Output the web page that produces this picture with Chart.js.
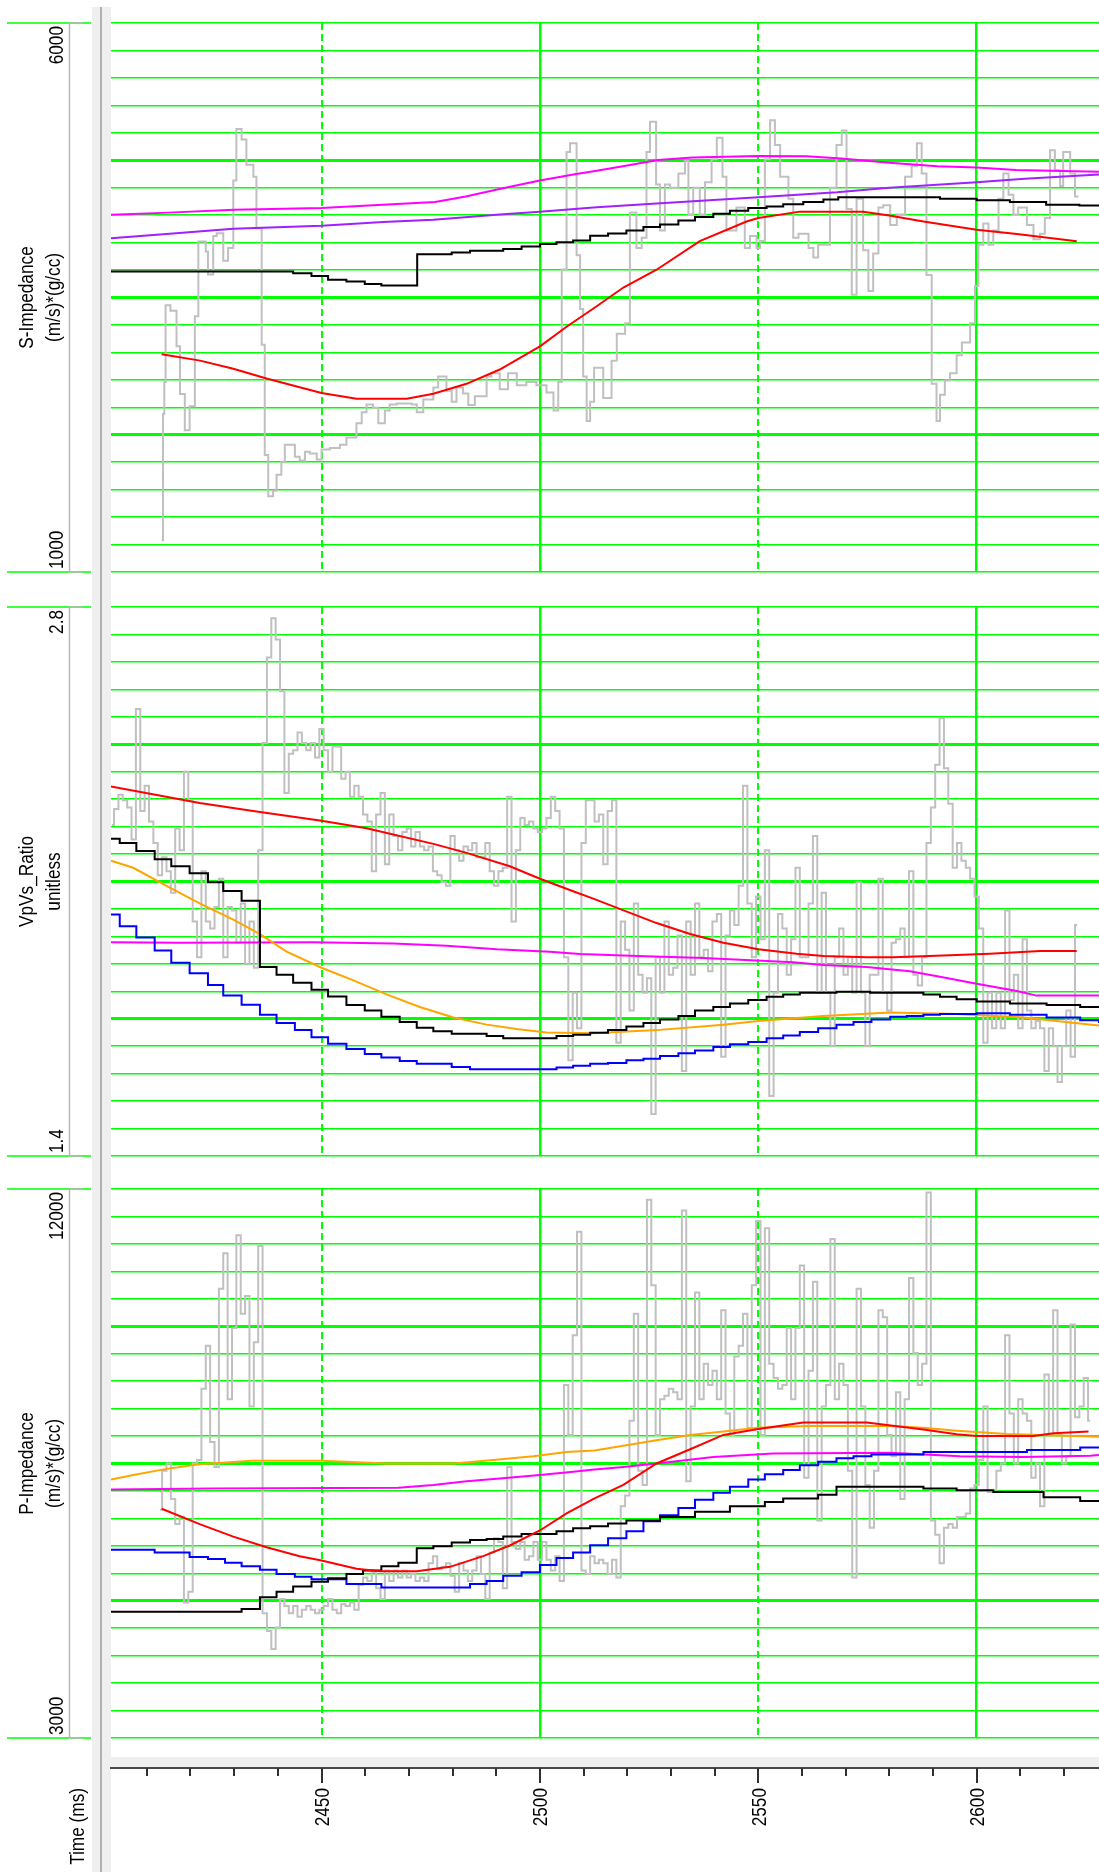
<!DOCTYPE html>
<html>
<head>
<meta charset="utf-8">
<title>Well log inversion display</title>
<script src="https://cdn.jsdelivr.net/npm/chart.js@4.4.1/dist/chart.umd.min.js"></script>
<style>
  html, body { margin: 0; padding: 0; background: #fff; }
  body { width: 1099px; height: 1872px; position: relative; overflow: hidden; }
  .sep { position: absolute; left: 92px; top: 7px; width: 19px; bottom: 0; background: #efefef; }
  .sep::after { content: ""; position: absolute; left: 8px; top: 0; bottom: 0; width: 2px; background: #b0b0b0; }
  .box { position: absolute; left: 0; width: 1099px; }
  canvas { display: block; }
</style>
</head>
<body>
<div class="sep"></div>
<div class="box" style="top:6px;height:583px"><canvas id="sImp" width="1099" height="583"></canvas></div>
<div class="box" style="top:590px;height:583px"><canvas id="vpvs" width="1099" height="583"></canvas></div>
<div class="box" style="top:1172px;height:583px"><canvas id="pImp" width="1099" height="583"></canvas></div>
<div class="box" style="top:1740px;height:132px"><canvas id="timeAxis" width="1099" height="132"></canvas></div>
<script>
const FONT = "'Liberation Sans', Arial, sans-serif";
const TEXT_SIZE = 21;      // px
const TEXT_NARROW = 0.82;  // horizontal squeeze for the narrow label face
Chart.defaults.font.family = FONT;
Chart.defaults.font.size = TEXT_SIZE;
Chart.defaults.color = '#000';

// ---- time axis ----
const timeRange = [2401.8, 2628];
const gridSolid = [2500, 2600];
const gridDashed = [2450, 2550];
const timeLabels = [2450, 2500, 2550, 2600];
const timeMinor = [2410, 2420, 2430, 2440, 2450, 2460, 2470, 2480, 2490, 2500, 2510, 2520, 2530,
                   2540, 2550, 2560, 2570, 2580, 2590, 2600, 2610, 2620];
const timeTitle = 'Time (ms)';

// ---- panel ranges and titles ----
const sImpRange = [1000, 6000];
const vpvsRange = [1.4, 2.8];
const pImpRange = [3000, 12000];
const sImpTitle = ['S-Impedance', '(m/s)*(g/cc)'];
const vpvsTitle = ['VpVs_Ratio', 'unitless'];
const pImpTitle = ['P-Impedance', '(m/s)*(g/cc)'];

// ---- S-Impedance ----
const sImpLog = [[2413.4,1290],[2413.7,2440],[2414.0,2730],[2414.3,3430],[2415.4,3380],[2416.8,3055],[2417.6,2620],[2418.7,2290],[2419.8,2510],[2421.0,3330],[2421.8,4010],[2423.5,3920],[2424.0,3710],[2425.2,4060],[2426.0,4085],[2427.5,3835],[2428.6,3950],[2429.8,4565],[2430.5,5035],[2431.7,4940],[2432.8,4710],[2434.4,4600],[2435.1,4130],[2436.3,3070],[2437.0,2065],[2437.8,1690],[2438.9,1740],[2439.7,1885],[2440.8,2000],[2441.6,2160],[2443.9,2050],[2445.0,2015],[2446.2,2095],[2447.3,2080],[2448.9,2025],[2450.0,2115],[2451.9,2130],[2454.2,2160],[2455.7,2225],[2458.0,2355],[2459.2,2455],[2460.3,2525],[2461.8,2495],[2463.0,2355],[2464.5,2470],[2465.6,2525],[2467.2,2535],[2470.6,2525],[2471.8,2455],[2473.3,2570],[2475.6,2680],[2476.7,2780],[2478.6,2650],[2479.8,2550],[2480.9,2680],[2482.4,2625],[2483.6,2520],[2485.1,2600],[2487.8,2780],[2488.9,2810],[2490.8,2665],[2492.7,2810],[2494.7,2700],[2496.9,2730],[2499.2,2700],[2501.5,2635],[2503.1,2470],[2504.2,2730],[2505.0,3755],[2506.1,4825],[2506.9,4905],[2508.4,3885],[2509.2,3395],[2509.9,2780],[2510.7,2375],[2511.5,2550],[2512.4,2860],[2514.5,2585],[2516.4,2925],[2517.6,3170],[2519.5,3265],[2520.6,4275],[2522.1,3950],[2523.3,4045],[2524.4,4825],[2525.2,5100],[2526.6,4530],[2527.5,4110],[2528.6,4530],[2529.8,4500],[2531.7,4630],[2533.2,4745],[2534.0,4255],[2535.1,4500],[2536.6,4255],[2537.8,4550],[2539.3,4760],[2540.5,4955],[2541.8,4600],[2542.7,4110],[2545.0,4320],[2546.9,3950],[2548.1,4060],[2549.6,3950],[2550.4,4015],[2551.5,4760],[2552.7,5115],[2553.8,4890],[2555.0,4600],[2556.9,4400],[2558.0,4045],[2559.2,4080],[2561.5,3950],[2562.6,3865],[2563.7,3980],[2566.4,4500],[2567.9,4890],[2569.1,5020],[2570.2,4305],[2571.4,3525],[2572.5,4400],[2574.0,3930],[2575.2,3560],[2576.3,3900],[2577.5,4320],[2578.6,4340],[2580.2,4160],[2581.7,4255],[2583.6,4600],[2585.1,4695],[2586.3,4905],[2587.4,4630],[2588.5,3705],[2589.7,2715],[2590.8,2375],[2591.6,2615],[2592.7,2745],[2593.9,2810],[2595.4,2975],[2596.6,3090],[2598.5,3265],[2599.6,3605],[2600.4,3980],[2601.5,4175],[2602.7,3980],[2603.8,4110],[2605.0,4400],[2606.1,4630],[2607.3,4435],[2608.4,4255],[2609.5,4320],[2611.5,4160],[2613.0,4030],[2614.5,4080],[2615.6,4225],[2616.8,4840],[2617.9,4660],[2619.1,4515],[2619.8,4825],[2621.4,4630],[2622.5,4420],[2623.3,4420]];
const sImpMagenta = [[2401.8,4253],[2415,4273],[2430,4299],[2450,4315],[2464,4345],[2476,4370],[2483,4419],[2491,4490],[2500,4565],[2508,4623],[2513,4655],[2519,4695],[2527,4753],[2535,4776],[2550,4789],[2561,4786],[2569,4766],[2580,4727],[2591,4695],[2600,4685],[2609,4662],[2628,4646]];
const sImpPurple = [[2401.8,4039],[2414.5,4078],[2429.8,4127],[2450,4153],[2464.1,4188],[2475.6,4208],[2490.8,4257],[2500,4282],[2513,4321],[2526.7,4357],[2550,4412],[2568,4458],[2580,4500],[2600,4549],[2611,4581],[2628,4620]];
const sImpBlack = [[2401.8,3737],[2443.5,3721],[2447.7,3695],[2451.5,3662],[2455.7,3646],[2459.9,3623],[2463.7,3610],[2471.9,3893],[2479.8,3909],[2484.0,3925],[2491.6,3942],[2495.8,3964],[2500.0,3987],[2503.8,4003],[2507.6,4020],[2511.5,4062],[2515.6,4084],[2519.8,4110],[2523.7,4143],[2527.5,4165],[2531.7,4201],[2535.5,4233],[2539.7,4263],[2543.5,4289],[2547.7,4315],[2551.9,4328],[2555.7,4350],[2560.3,4370],[2564.9,4393],[2568.3,4412],[2591.6,4399],[2600.0,4386],[2607.6,4370],[2615.9,4344],[2623.5,4338],[2628,4338]];
const sImpRed = [[2413.4,2984],[2422.2,2925],[2429.8,2851],[2437.4,2763],[2445,2682],[2450,2630],[2458,2578],[2469.5,2578],[2475.6,2623],[2483.2,2714],[2490.8,2844],[2500,3055],[2506.1,3234],[2513,3420],[2519.1,3591],[2526.7,3753],[2536.6,4013],[2547.3,4192],[2550,4224],[2559.5,4282],[2574,4282],[2580,4247],[2587.8,4192],[2600,4117],[2609.2,4078],[2622.9,4013]];

// ---- Vp/Vs ratio ----
const vpvsLogStart = 2402, vpvsLogStep = 1;
const vpvsLog = [
  2.244,2.285,2.321,2.307,2.289,2.207,2.540,2.280,2.344,2.253,
  2.198,2.116,2.162,2.126,2.071,2.235,2.180,2.380,2.307,1.998,
  1.907,2.126,1.998,1.980,2.035,2.107,1.907,2.035,2.026,1.944,
  2.044,1.889,1.998,1.880,2.180,2.453,2.671,2.771,2.717,2.585,
  2.326,2.426,2.435,2.480,2.453,2.435,2.453,2.416,2.489,2.435,
  2.380,2.444,2.444,2.362,2.380,2.316,2.344,2.316,2.271,2.253,
  2.126,2.271,2.326,2.144,2.271,2.216,2.180,2.226,2.235,2.189,
  2.226,2.189,2.180,2.189,2.126,2.116,2.098,2.089,2.216,2.180,
  2.153,2.189,2.180,2.198,2.162,2.162,2.198,2.126,2.089,2.126,
  2.135,2.316,1.998,2.180,2.262,2.244,2.253,2.235,2.226,2.235,
  2.262,2.316,2.280,2.235,1.907,1.644,1.816,1.726,2.198,2.307,
  2.307,2.253,2.271,2.144,2.280,2.307,1.689,1.998,1.926,1.771,
  2.044,1.862,1.816,1.853,1.507,1.907,1.816,1.998,1.862,1.880,
  1.962,1.617,1.998,1.862,2.044,1.907,1.926,1.871,1.998,2.017,
  1.653,1.962,2.026,1.989,2.089,2.344,2.044,1.907,2.062,1.953,
  2.180,1.553,1.816,2.017,1.980,1.862,1.953,2.135,1.907,1.907,
  2.044,2.216,1.816,2.071,1.816,1.680,1.907,1.980,1.862,1.907,
  1.816,2.098,1.816,1.680,1.862,1.862,2.107,1.816,1.771,1.944,
  1.953,1.980,1.907,2.126,1.862,1.835,1.907,2.198,2.289,2.398,
  2.516,2.389,2.298,2.135,2.198,2.153,2.135,2.107,2.062,1.980,
  1.689,1.816,1.726,1.816,1.726,2.026,1.798,1.862,1.726,1.953,
  1.771,1.726,1.744,1.726,1.617,1.726,1.680,1.589,1.680,1.771,
  1.653,1.989
];
const vpvsRed = [[2401.8,2.342],[2422.1,2.300],[2435.9,2.277],[2450,2.255],[2460.3,2.236],[2475.6,2.196],[2483.2,2.173],[2493.1,2.139],[2500,2.107],[2507.6,2.075],[2512.5,2.055],[2519,2.027],[2526.7,1.994],[2534.4,1.966],[2542,1.944],[2550,1.927],[2558.8,1.916],[2564.9,1.910],[2574.8,1.907],[2581,1.907],[2593.9,1.912],[2603,1.916],[2614.5,1.923],[2622.9,1.923]];
const vpvsMagenta = [[2401.8,1.945],[2417.6,1.944],[2448.1,1.945],[2466.4,1.942],[2478.6,1.936],[2490.1,1.927],[2502.3,1.921],[2509.2,1.915],[2522.5,1.910],[2537.4,1.905],[2558.0,1.894],[2564.9,1.887],[2574.8,1.882],[2584.7,1.871],[2591.6,1.857],[2600,1.839],[2609.2,1.821],[2613.7,1.809],[2628,1.809]];
const vpvsOrange = [[2401.8,2.153],[2406.9,2.135],[2414.5,2.089],[2422.1,2.044],[2429.8,2.003],[2435.9,1.966],[2442,1.921],[2450,1.880],[2457.3,1.848],[2464.9,1.812],[2472.5,1.780],[2480.2,1.753],[2487.8,1.735],[2494.7,1.724],[2501.5,1.715],[2512,1.713],[2526.7,1.721],[2542,1.735],[2550,1.744],[2564.9,1.757],[2580.2,1.766],[2595.4,1.762],[2610.7,1.753],[2628,1.733]];
const vpvsBlack = [[2401.8,2.209],[2403.8,2.198],[2407.6,2.178],[2411.8,2.157],[2415.6,2.139],[2419.8,2.121],[2424.0,2.098],[2427.5,2.076],[2431.7,2.051],[2435.9,1.882],[2439.7,1.862],[2443.5,1.842],[2447.7,1.824],[2451.5,1.807],[2455.7,1.785],[2459.9,1.771],[2463.7,1.755],[2467.9,1.742],[2471.8,1.727],[2475.6,1.718],[2479.8,1.712],[2487.8,1.706],[2491.6,1.700],[2503.8,1.706],[2507.6,1.709],[2511.5,1.714],[2515.6,1.721],[2519.8,1.730],[2523.7,1.739],[2527.5,1.748],[2531.7,1.757],[2535.5,1.771],[2539.7,1.780],[2543.5,1.789],[2547.7,1.798],[2551.9,1.806],[2555.7,1.812],[2559.5,1.816],[2567.9,1.819],[2575.6,1.816],[2587.8,1.812],[2591.6,1.806],[2595.4,1.800],[2600,1.794],[2607.6,1.789],[2616,1.785],[2623.7,1.780],[2628,1.780]];
const vpvsBlue = [[2401.8,2.016],[2403.8,1.986],[2407.6,1.957],[2411.8,1.924],[2415.6,1.893],[2419.8,1.866],[2424.0,1.836],[2427.5,1.809],[2431.7,1.786],[2435.9,1.760],[2439.7,1.739],[2443.9,1.721],[2447.7,1.703],[2451.5,1.686],[2455.7,1.673],[2459.9,1.660],[2463.7,1.651],[2467.9,1.642],[2471.8,1.635],[2479.8,1.627],[2484.0,1.621],[2503.8,1.626],[2507.6,1.630],[2511.5,1.635],[2515.6,1.637],[2519.8,1.644],[2523.7,1.648],[2527.5,1.655],[2531.7,1.662],[2535.5,1.669],[2539.7,1.678],[2543.5,1.685],[2547.7,1.691],[2551.9,1.700],[2555.7,1.707],[2559.5,1.716],[2563.7,1.726],[2567.9,1.735],[2571.8,1.742],[2575.9,1.748],[2580.2,1.755],[2584.0,1.757],[2587.8,1.760],[2591.6,1.762],[2600,1.764],[2607.6,1.760],[2616,1.753],[2623.7,1.746],[2628,1.739]];

// ---- P-Impedance ----
const pImpLogStart = 2413, pImpLogStep = 1;
const pImpLog = [
  6740,7383,7500,6916,6507,6623,5221,5396,7500,7558,
  8727,9429,7851,7442,10364,10948,8552,9721,11240,9955,
  10247,8435,9487,11065,5046,4754,4461,4812,5279,5162,
  5046,5162,4987,5104,5162,5104,5046,5104,5162,5279,
  5104,5046,5192,5162,5221,5104,5513,5630,5572,5718,
  5455,5279,5747,5572,5747,5630,5747,5630,5688,5572,
  5630,5572,5864,5981,5776,5806,5864,5659,5396,5864,
  5747,5572,5747,5981,5688,5279,6039,6273,6214,5455,
  7442,6214,6097,6214,5922,5981,6214,5922,6214,5922,
  5747,5981,5572,8786,7968,9604,11299,5747,5688,5981,
  5864,5922,5864,5688,5922,5630,6799,6974,8201,9955,
  7383,7149,11825,10422,7968,8552,8610,8727,8669,8552,
  11649,7208,8435,10305,8552,9136,8786,9020,8552,10013,
  8318,7968,9253,9429,9955,8085,10422,11474,7968,11357,
  9136,8903,8727,8786,9721,8552,9721,10744,7266,9020,
  10481,6565,8435,8786,11182,8552,9136,8786,7383,5630,
  10364,8435,7149,6448,7383,10013,9896,7968,7617,8669,
  6916,8552,10539,9312,8786,9136,11942,6565,6331,5864,
  6448,6507,6448,6623,6623,6682,7091,7149,7558,8435,
  7033,7033,7383,7500,9604,8318,7500,8552,8318,8201,
  7266,7500,6799,8961,7968,10013,7968,7500,7617,9779,
  8260,8435,8903,8201
];
const pImpOrange = [[2401.8,7237],[2406.9,7313],[2414.5,7412],[2422.1,7488],[2434,7547],[2450,7547],[2464.9,7500],[2480.2,7500],[2489.3,7558],[2498.5,7617],[2506.1,7687],[2512.5,7712],[2519.1,7792],[2526.7,7880],[2534.4,7968],[2542,8026],[2550,8085],[2561.1,8114],[2580.2,8114],[2587.8,8085],[2595.4,8038],[2606.9,7985],[2628,7938]];
const pImpMagenta = [[2401.8,7074],[2425.2,7091],[2467.6,7103],[2475.6,7149],[2483.2,7208],[2490.8,7255],[2500,7313],[2507.6,7366],[2512.5,7400],[2519.1,7442],[2526.7,7500],[2539.7,7605],[2553.4,7664],[2580.2,7676],[2596.2,7617],[2610.7,7605],[2626,7629],[2628,7640]];
const pImpRed = [[2413.4,6758],[2422.1,6507],[2429.8,6302],[2437.4,6127],[2445,5981],[2450,5911],[2458,5776],[2463.4,5735],[2471.8,5735],[2479.4,5806],[2487,5981],[2493.1,6156],[2500,6402],[2506.1,6682],[2512.5,6930],[2519.1,7149],[2526.7,7500],[2534.4,7734],[2542,7968],[2550,8067],[2560.3,8172],[2574.8,8172],[2587.8,8056],[2595.4,7979],[2600,7950],[2613,7950],[2617.6,7997],[2625.6,8026]];
const pImpBlack = [[2401.8,5069],[2431.7,5116],[2435.9,5309],[2439.7,5396],[2443.5,5484],[2447.7,5560],[2451.5,5618],[2455.7,5689],[2459.5,5747],[2463.7,5817],[2467.6,5875],[2471.8,6109],[2475.6,6144],[2479.8,6203],[2484.0,6244],[2487.8,6261],[2491.6,6302],[2495.8,6343],[2503.8,6390],[2507.6,6437],[2511.5,6472],[2515.6,6518],[2519.8,6565],[2527.5,6624],[2535.5,6711],[2543.5,6799],[2551.5,6869],[2555.7,6927],[2563.7,6986],[2567.9,7120],[2587.8,7091],[2595.4,7062],[2603.8,7033],[2615.3,6945],[2623.7,6887],[2628,6887]];
const pImpBlue = [[2401.8,6086],[2411.8,6039],[2419.8,5969],[2424.0,5934],[2427.9,5875],[2431.7,5817],[2435.9,5759],[2439.7,5689],[2443.9,5642],[2447.7,5601],[2455.7,5525],[2463.7,5467],[2484.0,5525],[2487.8,5572],[2491.6,5659],[2495.8,5718],[2500.0,5835],[2503.8,5951],[2507.6,6039],[2511.5,6160],[2515.6,6273],[2519.8,6390],[2523.7,6553],[2527.5,6653],[2531.7,6770],[2535.5,6904],[2539.7,7021],[2543.5,7120],[2547.7,7237],[2551.5,7325],[2555.7,7395],[2559.5,7471],[2563.7,7529],[2567.9,7588],[2571.8,7617],[2575.9,7646],[2587.8,7687],[2611.5,7722],[2623.7,7763],[2628,7763]];

// ---- colours ----
const COLORS = { log: '#c0c0c0', red: '#ff0000', magenta: '#ff00ff', purple: '#a020ff',
                 black: '#000000', blue: '#0000ff', orange: '#ffa500', grid: '#00ff00' };

const pairs = a => a.map(([x, y]) => ({ x, y }));
const sampled = (t0, dt, vals) => vals.map((y, i) => ({ x: t0 + i * dt, y }));
const line = (data, color, stepped = false, width = 2) =>
  ({ data, borderColor: color, borderWidth: width, stepped, pointRadius: 0, fill: false, tension: 0 });

// vertical (bottom-to-top) text in the narrow label face; x is the baseline position
function upText(ctx, text, x, y, align) {
  ctx.save();
  ctx.translate(x, y);
  ctx.rotate(-Math.PI / 2);
  ctx.scale(TEXT_NARROW, 1);
  ctx.font = `${TEXT_SIZE}px ${FONT}`;
  ctx.fillStyle = '#000';
  ctx.textAlign = align;
  ctx.textBaseline = 'alphabetic';
  ctx.fillText(text, 0, 0);
  ctx.restore();
}

// left-hand track header: range lines, axis spine, end values and curve title
const leftAxisPlugin = {
  id: 'leftAxis',
  afterDraw(chart, args, opts) {
    const { ctx } = chart;
    const s = chart.scales.y;
    const top = s.getPixelForValue(s.max), bot = s.getPixelForValue(s.min);
    ctx.save();
    ctx.strokeStyle = COLORS.grid; ctx.lineWidth = 1.5;
    [top, bot].forEach(y => { ctx.beginPath(); ctx.moveTo(7, y); ctx.lineTo(91, y); ctx.stroke(); });
    ctx.strokeStyle = '#b8b8b8'; ctx.lineWidth = 1.5;
    ctx.beginPath();
    ctx.moveTo(69.5, top); ctx.lineTo(69.5, bot);
    ctx.moveTo(69, top); ctx.lineTo(82, top);
    ctx.moveTo(69, bot); ctx.lineTo(82, bot);
    ctx.stroke();
    ctx.restore();
    upText(ctx, String(s.max), 63, top + 3, 'right');
    upText(ctx, String(s.min), 63, bot - 3, 'left');
    const mid = (top + bot) / 2;
    (opts.title || []).forEach((t, i) => upText(ctx, t, 33 + i * 27, mid, 'center'));
  }
};

function panel(id, range, title, datasets) {
  const [lo, hi] = range;
  return new Chart(document.getElementById(id), {
    type: 'line',
    data: { datasets },
    options: {
      responsive: false, animation: false, devicePixelRatio: 1,
      layout: { padding: { top: 17, bottom: 17, left: 0, right: 0 } },
      plugins: { legend: { display: false }, tooltip: { enabled: false }, leftAxis: { title } },
      scales: {
        x: {
          type: 'linear', position: 'bottom', min: timeRange[0], max: timeRange[1],
          afterBuildTicks: s => { s.ticks = gridSolid.map(value => ({ value })); },
          ticks: { display: false }, border: { display: false },
          grid: { color: COLORS.grid, lineWidth: 2.5, drawTicks: false },
          afterFit: s => { s.height = 0; }
        },
        xd: {
          type: 'linear', position: 'bottom', min: timeRange[0], max: timeRange[1],
          afterBuildTicks: s => { s.ticks = gridDashed.map(value => ({ value })); },
          ticks: { display: false }, border: { display: false, dash: [7, 4] },
          grid: { color: COLORS.grid, lineWidth: 2, drawTicks: false },
          afterFit: s => { s.height = 0; }
        },
        y: {
          type: 'linear', position: 'left', min: lo, max: hi,
          afterBuildTicks: s => { s.ticks = Array.from({ length: 21 }, (_, i) => ({ value: lo + (hi - lo) * i / 20 })); },
          ticks: { display: false }, border: { display: false },
          grid: {
            color: COLORS.grid, drawTicks: false,
            lineWidth: c => (c.index % 5 === 0 && c.index > 0 && c.index < 20) ? 3 : 1.5
          },
          afterFit: s => { s.width = 111; }
        }
      }
    },
    plugins: [leftAxisPlugin]
  });
}

panel('sImp', sImpRange, sImpTitle, [
  line(pairs(sImpRed), COLORS.red),
  line(pairs(sImpBlack), COLORS.black, 'before'),
  line(pairs(sImpPurple), COLORS.purple),
  line(pairs(sImpMagenta), COLORS.magenta),
  line(pairs(sImpLog), COLORS.log, 'before')
]);

panel('vpvs', vpvsRange, vpvsTitle, [
  line(pairs(vpvsRed), COLORS.red),
  line(pairs(vpvsBlack), COLORS.black, 'before'),
  line(pairs(vpvsBlue), COLORS.blue, 'before'),
  line(pairs(vpvsOrange), COLORS.orange),
  line(pairs(vpvsMagenta), COLORS.magenta),
  line(sampled(vpvsLogStart, vpvsLogStep, vpvsLog), COLORS.log, 'middle')
]);

panel('pImp', pImpRange, pImpTitle, [
  line(pairs(pImpRed), COLORS.red),
  line(pairs(pImpOrange), COLORS.orange),
  line(pairs(pImpBlack), COLORS.black, 'before'),
  line(pairs(pImpBlue), COLORS.blue, 'before'),
  line(pairs(pImpMagenta), COLORS.magenta),
  line(sampled(pImpLogStart, pImpLogStep, pImpLog), COLORS.log, 'middle')
]);

// time axis strip: grey band, tick marks, tick values and the axis caption
const timeAxisPlugin = {
  id: 'timeAxis',
  beforeDraw(chart) {
    const { ctx, chartArea: a } = chart;
    ctx.save(); ctx.fillStyle = '#efefef';
    ctx.fillRect(a.left, a.top, a.right - a.left, a.bottom - a.top); ctx.restore();
  },
  afterDraw(chart) {
    const { ctx } = chart;
    const s = chart.scales.x;
    ctx.save();
    ctx.strokeStyle = '#303030'; ctx.lineWidth = 2;
    s.ticks.forEach(t => {
      const x = Math.round(s.getPixelForValue(t.value));
      const len = timeLabels.includes(t.value) ? 15 : 8;
      ctx.beginPath(); ctx.moveTo(x, s.top); ctx.lineTo(x, s.top + len); ctx.stroke();
    });
    ctx.restore();
    timeLabels.forEach(v => upText(ctx, String(v), s.getPixelForValue(v) + 7.5, s.top + 20, 'right'));
    upText(ctx, timeTitle, 84, s.top + 20, 'right');
  }
};

new Chart(document.getElementById('timeAxis'), {
  type: 'line',
  data: { datasets: [] },
  options: {
    responsive: false, animation: false, devicePixelRatio: 1,
    layout: { padding: { top: 17, left: 111, right: 0, bottom: 0 } },
    plugins: { legend: { display: false }, tooltip: { enabled: false } },
    scales: {
      x: {
        type: 'linear', position: 'bottom', min: timeRange[0], max: timeRange[1],
        afterBuildTicks: s => { s.ticks = timeMinor.map(value => ({ value })); },
        grid: { display: false, drawTicks: false },
        border: { display: true, color: '#484848', width: 2 },
        ticks: { display: false },
        afterFit: s => { s.height = 104; }
      },
      y: { display: false, min: 0, max: 1 }
    }
  },
  plugins: [timeAxisPlugin]
});
</script>
</body>
</html>
